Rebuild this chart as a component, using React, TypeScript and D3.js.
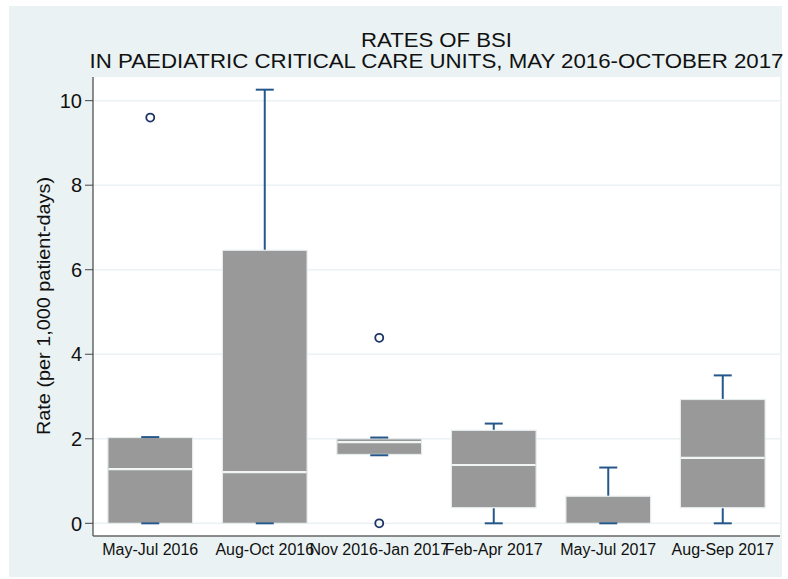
import React from 'react'
import * as d3 from 'd3'

// box plot summaries
const categories = ['May-Jul 2016', 'Aug-Oct 2016', 'Nov 2016-Jan 2017', 'Feb-Apr 2017', 'May-Jul 2017', 'Aug-Sep 2017']
const lowerWhisker = [0, 0, 1.61, 0, 0, 0]
const q1 = [0, 0, 1.63, 0.37, 0, 0.37]
const median = [1.28, 1.21, 1.92, 1.38, 0, 1.55]
const q3 = [2.03, 6.46, 2.0, 2.2, 0.64, 2.93]
const upperWhisker = [2.04, 10.26, 2.03, 2.36, 1.32, 3.5]
const outliers = [[9.6], [], [4.39, 0], [], [], []]
const yTicks = [0, 2, 4, 6, 8, 10]

const W = 788, H = 579
const plot = {left: 93, right: 780, top: 77, bottom: 536}
const font = '"Liberation Sans", Arial, sans-serif'

export default function App() {
    const x = d3.scaleBand().domain(categories).range([plot.left, plot.right]).paddingInner(0.26).paddingOuter(0.13)
    const y = d3.scaleLinear().domain([-0.3, 10.56]).range([plot.bottom, plot.top])
    const bw = x.bandwidth()
    const cap = 18
    const navy = '#26578a'
    const midX = (plot.left + plot.right) / 2

    return (
        <svg width={W} height={H} style={{position: 'absolute', left: 0, top: 0, display: 'block'}}>
            <rect x={0} y={0} width={W} height={H} fill="#fff"/>
            <rect x={9} y={6} width={773} height={571} fill="#eaf2f3"/>
            <rect x={plot.left} y={plot.top} width={plot.right - plot.left} height={plot.bottom - plot.top} fill="#fff"/>

            {yTicks.map(t => (
                <line key={'g' + t} x1={plot.left} x2={plot.right} y1={y(t)} y2={y(t)} stroke="#eaf2f3" strokeWidth={1.5}/>
            ))}

            {categories.map((c, i) => {
                const cx = x(c)! + bw / 2
                return (
                    <g key={c}>
                        <line x1={cx} x2={cx} y1={y(upperWhisker[i])} y2={y(q3[i])} stroke={navy} strokeWidth={2}/>
                        <line x1={cx} x2={cx} y1={y(lowerWhisker[i])} y2={y(q1[i])} stroke={navy} strokeWidth={2}/>
                        <rect x={x(c)} y={y(q3[i])} width={bw} height={y(q1[i]) - y(q3[i])}
                              fill="#999999" stroke="#e6ecee" strokeWidth={1.2}/>
                        {median[i] > q1[i] &&
                            <line x1={x(c)! + 0.6} x2={x(c)! + bw - 0.6} y1={y(median[i])} y2={y(median[i])} stroke="#f2f5f6" strokeWidth={2.2}/>}
                        <line x1={cx - cap / 2} x2={cx + cap / 2} y1={y(upperWhisker[i])} y2={y(upperWhisker[i])} stroke={navy} strokeWidth={2}/>
                        <line x1={cx - cap / 2} x2={cx + cap / 2} y1={y(lowerWhisker[i])} y2={y(lowerWhisker[i])} stroke={navy} strokeWidth={2}/>
                        {outliers[i].map((o, j) => (
                            <circle key={j} cx={cx} cy={y(o)} r={4} fill="none" stroke="#1c3466" strokeWidth={1.8}/>
                        ))}
                    </g>
                )
            })}

            {/* y axis */}
            <line x1={plot.left} x2={plot.left} y1={plot.top} y2={plot.bottom} stroke="#444" strokeWidth={1.2}/>
            {yTicks.map(t => (
                <g key={'t' + t}>
                    <line x1={plot.left - 8} x2={plot.left} y1={y(t)} y2={y(t)} stroke="#444" strokeWidth={1}/>
                    <text x={plot.left - 11} y={y(t)} dy="0.36em" textAnchor="end" fontFamily={font} fontSize={20} fill="#111">{t}</text>
                </g>
            ))}
            <text transform={`translate(50,306) rotate(-90)`} textAnchor="middle"
                  fontFamily={font} fontSize={19} fill="#111" textLength={258} lengthAdjust="spacingAndGlyphs">Rate (per 1,000 patient-days)</text>

            {/* x axis */}
            <line x1={plot.left} x2={plot.right} y1={plot.bottom} y2={plot.bottom} stroke="#666" strokeWidth={1.5}/>
            {categories.map(c => (
                <text key={'l' + c} x={x(c)! + bw / 2} y={555} textAnchor="middle" fontFamily={font} fontSize={16} fill="#111">{c}</text>
            ))}

            {/* title */}
            <text x={midX} y={47} textAnchor="middle" fontFamily={font} fontSize={20.5} fill="#111"
                  textLength={151} lengthAdjust="spacingAndGlyphs">RATES OF BSI</text>
            <text x={midX} y={68} textAnchor="middle" fontFamily={font} fontSize={20.5} fill="#111"
                  textLength={694} lengthAdjust="spacingAndGlyphs">IN PAEDIATRIC CRITICAL CARE UNITS, MAY 2016-OCTOBER 2017</text>
        </svg>
    )
}
